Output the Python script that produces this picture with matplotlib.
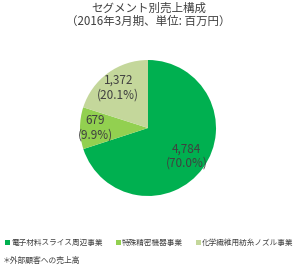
import numpy as np
import matplotlib
matplotlib.use("Agg")
import matplotlib.pyplot as plt
from matplotlib.patches import Patch

plt.rcParams['font.family'] = ['Noto Sans CJK JP', 'DejaVu Sans']

# data
segments = ['電子材料スライス周辺事業', '特殊精密機器事業', '化学繊維用紡糸ノズル事業']
sales = [4784, 679, 1372]
shares = [70.0, 9.9, 20.1]
colors = ['#00B050', '#92D050', '#C4D79B']
label_dist = [0.70, 0.78, 0.74]

txt_color = '#404040'

fig = plt.figure(figsize=(2.97, 2.68), dpi=100)
ax = fig.add_axes([148/297 - 85/297, 1 - (128 + 85)/268, 170/297, 170/268])

wedges, _ = ax.pie(sales, colors=colors, startangle=90, counterclock=False,
                   wedgeprops=dict(linewidth=0))
ax.set_aspect('equal')

for w, v, s, d in zip(wedges, sales, shares, label_dist):
    ang = np.deg2rad((w.theta1 + w.theta2) / 2)
    ax.text(d * np.cos(ang), d * np.sin(ang), f"{v:,}\n({s:.1f}%)",
            ha='center', va='center', fontsize=8.5, color=txt_color,
            linespacing=1.15)

fig.text(0.5, 1 - 8/268, 'セグメント別売上構成', ha='center', va='center',
         fontsize=8.3, color=txt_color)
fig.text(0.5, 1 - 21/268, '（2016年3月期、単位: 百万円）', ha='center', va='center',
         fontsize=8.3, color=txt_color)

handles = [Patch(facecolor=c, edgecolor='none') for c in colors]
fig.legend(handles, segments, loc='center left', bbox_to_anchor=(-0.005, 1 - 243/268),
           ncol=3, frameon=False, fontsize=5.5, handlelength=0.6, handleheight=0.6,
           handletextpad=0.2, columnspacing=1.7, labelcolor=txt_color)

fig.text(3/297, 1 - 261/268, '＊外部顧客への売上高', ha='left', va='center',
         fontsize=5.6, color=txt_color)

fig.savefig('out.png', dpi=100)
